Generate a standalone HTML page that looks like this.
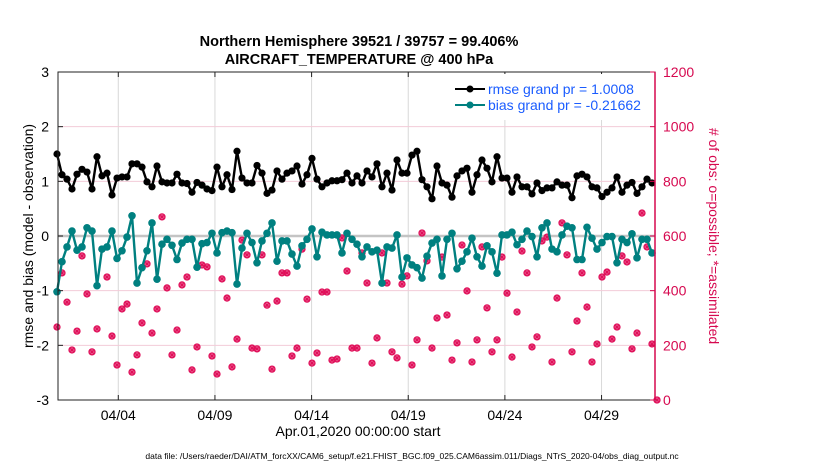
<!DOCTYPE html>
<html><head><meta charset="utf-8">
<style>
html,body{margin:0;padding:0;background:#fff;}
svg{display:block;font-family:"Liberation Sans",Arial,sans-serif;}
</style></head>
<body>
<svg id="chart" width="830" height="470" viewBox="0 0 830 470" xmlns="http://www.w3.org/2000/svg">
<text x="359" y="46" text-anchor="middle" font-size="14.5" font-weight="bold">Northern Hemisphere 39521 / 39757 = 99.406%</text>
<text x="359" y="64" text-anchor="middle" font-size="14.5" font-weight="bold">AIRCRAFT_TEMPERATURE @ 400 hPa</text>
<g id="grid"></g>
<g id="marks"></g>
<g id="axes"></g>
<text transform="translate(33,236) rotate(-90)" text-anchor="middle" font-size="14">rmse and bias (model - observation)</text>
<text transform="translate(709,236) rotate(90)" text-anchor="middle" font-size="14" fill="#d6084f"># of obs: o=possible; *=assimilated</text>
<text x="358" y="436" text-anchor="middle" font-size="14">Apr.01,2020 00:00:00 start</text>
<text x="412" y="459" text-anchor="middle" font-size="8.5">data file: /Users/raeder/DAI/ATM_forcXX/CAM6_setup/f.e21.FHIST_BGC.f09_025.CAM6assim.011/Diags_NTrS_2020-04/obs_diag_output.nc</text>
<g>
<rect x="445" y="74" width="208" height="46" fill="#fff"/>
<line x1="455" y1="89" x2="485" y2="89" stroke="#000" stroke-width="2"/>
<circle cx="470" cy="89" r="3.5" fill="#000"/>
<text x="488" y="94" font-size="14" fill="#1a5cff">rmse grand pr = 1.0008</text>
<line x1="455" y1="105" x2="485" y2="105" stroke="#008080" stroke-width="2"/>
<circle cx="470" cy="105" r="3.5" fill="#008080"/>
<text x="488" y="110" font-size="14" fill="#1a5cff">bias grand pr = -0.21662</text>
</g>
</svg>
<script>
const rmse = [1.5,1.12,1.04,0.86,1.13,1.22,1.17,0.86,1.45,1.1,1.15,0.75,1.06,1.08,1.08,1.32,1.32,1.26,0.99,0.9,1.28,0.99,0.97,0.97,1.13,0.97,0.96,0.8,0.98,0.93,0.86,0.83,1.26,0.9,1.12,0.85,1.55,1.06,0.97,0.97,1.29,1.15,0.78,0.84,1.19,1.04,1.15,1.19,1.28,0.95,1.12,1.42,1.04,0.9,0.97,1.01,1.01,1.03,1.15,0.97,1.1,0.97,1.19,1.08,1.32,0.9,1.15,0.84,1.39,1.15,1.15,1.48,1.55,1.03,0.9,0.68,1.28,0.97,0.93,0.71,1.1,1.19,1.24,0.8,1.12,1.39,1.24,0.99,1.45,1.06,1.06,0.8,1.08,0.9,0.9,0.77,0.97,0.83,0.88,0.88,0.99,0.93,0.93,0.7,1.1,1.13,1.08,0.9,0.88,0.72,0.8,0.88,1.08,0.8,0.93,0.98,0.78,0.9,1.04,0.97];
const bias = [-1.02,-0.47,-0.2,0.09,-0.26,-0.2,0.15,0.09,-0.91,-0.24,-0.2,0.09,-0.41,-0.27,-0.02,0.37,-0.86,-0.58,-0.27,0.24,-0.79,-0.15,-0.06,-0.17,-0.43,-0.13,-0.06,-0.06,-0.57,-0.14,-0.12,0.05,-0.31,0.06,0.09,0.06,-0.88,-0.22,0.05,-0.12,-0.49,-0.09,0.05,0.24,-0.46,-0.09,-0.09,-0.33,-0.55,-0.18,-0.06,0.13,-0.38,0.07,0.02,0.02,0.02,-0.31,0.05,-0.06,-0.15,-0.38,-0.2,-0.29,-0.26,-0.86,-0.2,-0.22,0.02,-0.75,-0.4,-0.53,-0.58,-0.77,-0.37,-0.13,-0.06,-0.73,-0.06,0.05,-0.6,-0.46,-0.29,-0.04,-0.38,-0.55,-0.18,-0.29,-0.68,0.02,0.02,0.07,-0.16,-0.06,0.09,-0.01,-0.38,0.15,0.24,-0.24,-0.29,0.02,0.18,0.15,-0.43,-0.43,0.16,-0.04,-0.24,-0.12,-0.01,-0.01,-0.49,-0.06,-0.12,0.04,-0.4,-0.06,-0.06,-0.31];
const obsCount = [267,465,358,183,252,527,388,176,260,552,450,234,128,333,351,102,165,282,498,245,333,670,410,165,256,421,450,110,194,494,487,161,95,443,373,121,223,585,531,190,187,531,347,113,362,465,465,161,190,552,369,135,172,395,395,146,150,593,472,190,190,538,428,135,227,538,428,176,154,424,454,128,220,611,509,190,300,523,311,146,209,567,399,139,220,560,337,176,220,523,391,157,322,545,465,194,231,582,596,139,373,648,531,176,289,465,340,139,205,450,468,223,267,527,505,187,245,684,560,205,0];
const leftTicks = [-3,-2,-1,0,1,2,3];
const rightTicks = [0,200,400,600,800,1000,1200];
const dateTicks = ["04/04","04/09","04/14","04/19","04/24","04/29"];
const dateTickDays = [3,8,13,18,23,28];

const NS="http://www.w3.org/2000/svg";
const X0=58,X1=655,Y0=72,Y1=400;
function xIdx(i){return 57+5*i;}
function xDay(d){return 60.3+d*19.33;}
function yL(v){return Y1-(v+3)/6*(Y1-Y0);}
function yR(v){return Y1-v/1200*(Y1-Y0);}
function mk(tag,attrs,parent){const e=document.createElementNS(NS,tag);for(const k in attrs)e.setAttribute(k,attrs[k]);parent.appendChild(e);return e;}
const grid=document.getElementById('grid'),marks=document.getElementById('marks'),axes=document.getElementById('axes');

dateTickDays.forEach((d,i)=>{
  const l=mk('line',{x1:xDay(d),x2:xDay(d),y1:Y0,y2:Y1,stroke:'#d8d8d8','stroke-width':1},grid);
  
  
});
rightTicks.forEach(v=>{
  if(v===0||v===1200)return;
  const l=mk('line',{x1:X0,x2:X1,y1:yR(v),y2:yR(v),stroke:'#f3cbd8','stroke-width':1},grid);
  
  
});
const zl=mk('line',{x1:X0,x2:X1,y1:yL(0),y2:yL(0),stroke:'#c4c4c4','stroke-width':2.5},grid);



obsCount.forEach((v,i)=>{
  const g=mk('g',{},marks);
  
  
  const cx=xIdx(i),cy=yR(v);
  mk('circle',{cx:cx,cy:cy,r:3,fill:'none',stroke:'#e0105a','stroke-width':1.3},g);
  for(let a=0;a<4;a++){const t=a*Math.PI/4;mk('line',{x1:cx-3.4*Math.cos(t),y1:cy-3.4*Math.sin(t),x2:cx+3.4*Math.cos(t),y2:cy+3.4*Math.sin(t),stroke:'#e0105a','stroke-width':1.1},g);}
});

function series(vals,color,name,star){
  const pts=vals.map((v,i)=>xIdx(i)+','+yL(v)).join(' ');
  const pl=mk('polyline',{points:pts,fill:'none',stroke:color,'stroke-width':2.4,'stroke-linejoin':'round'},marks);
  
  
  vals.forEach((v,i)=>{
    const c=mk('circle',{cx:xIdx(i),cy:yL(v),r:star?3.6:3.8,fill:color},marks);
    
    
  });
}
series(bias,'#008080','bias',false);
series(rmse,'#000','rmse',true);

mk('rect',{x:X0,y:Y0,width:X1-X0,height:Y1-Y0,fill:'none',stroke:'#222','stroke-width':1},axes);
mk('line',{x1:X1,x2:X1,y1:Y0,y2:Y1,stroke:'#d6084f','stroke-width':1.5},axes);
leftTicks.forEach(v=>{
  mk('line',{x1:X0,x2:X0+5,y1:yL(v),y2:yL(v),stroke:'#222'},axes);
  const t=mk('text',{x:X0-9,y:yL(v)+5,'text-anchor':'end','font-size':14},axes);
  t.textContent=v;
  
  
});
rightTicks.forEach(v=>{
  mk('line',{x1:X1-5,x2:X1,y1:yR(v),y2:yR(v),stroke:'#d6084f'},axes);
  const t=mk('text',{x:X1+8,y:yR(v)+5,'font-size':14,fill:'#d6084f'},axes);
  t.textContent=v;
  
  
});
dateTicks.forEach((lab,i)=>{
  const x=xDay(dateTickDays[i]);
  mk('line',{x1:x,x2:x,y1:Y1,y2:Y1-5,stroke:'#222'},axes);
  mk('line',{x1:x,x2:x,y1:Y0,y2:Y0+5,stroke:'#222'},axes);
  const t=mk('text',{x:x,y:Y1+20,'text-anchor':'middle','font-size':14},axes);
  t.textContent=lab;
  
  
});
</script>
</body></html>
